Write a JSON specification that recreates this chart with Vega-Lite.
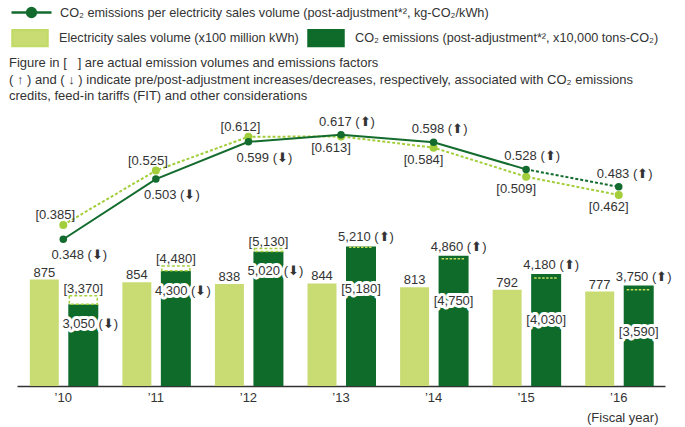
{
  "$schema": "https://vega.github.io/schema/vega-lite/v6.json",
  "width": 648,
  "height": 276,
  "autosize": {"type": "none"},
  "padding": {"left": 17, "top": 110, "right": 20, "bottom": 41},
  "background": "white",
  "config": {
    "view": {"stroke": null},
    "font": "Liberation Sans",
    "text": {"font": "Liberation Sans", "fontSize": 13, "color": "#333333"}
  },
  "title": {
    "text": [
      "Figure in [\u00a0\u00a0\u00a0] are actual emission volumes and emissions factors",
      "( ↑ ) and ( ↓ ) indicate pre/post-adjustment increases/decreases, respectively, associated with CO₂ emissions",
      "credits, feed-in tariffs (FIT) and other considerations"
    ],
    "anchor": "start",
    "frame": "group",
    "orient": "top",
    "offset": 8,
    "dx": -8,
    "dy": 120,
    "font": "Liberation Sans",
    "fontSize": 13,
    "fontWeight": "normal",
    "color": "#333333",
    "lineHeight": 16.5
  },
  "data": {
    "values": [
      {"year": "’10", "sales": 875, "co2": 3050, "co2pre": 3370, "factor": 0.348, "factorPre": 0.385, "dir": "down", "co2Label": "3,050 (⬇)", "co2PreLabel": "[3,370]", "factorLabel": "0.348 (⬇)", "factorPreLabel": "[0.385]"},
      {"year": "’11", "sales": 854, "co2": 4300, "co2pre": 4480, "factor": 0.503, "factorPre": 0.525, "dir": "down", "co2Label": "4,300 (⬇)", "co2PreLabel": "[4,480]", "factorLabel": "0.503 (⬇)", "factorPreLabel": "[0.525]"},
      {"year": "’12", "sales": 838, "co2": 5020, "co2pre": 5130, "factor": 0.599, "factorPre": 0.612, "dir": "down", "co2Label": "5,020 (⬇)", "co2PreLabel": "[5,130]", "factorLabel": "0.599 (⬇)", "factorPreLabel": "[0.612]"},
      {"year": "’13", "sales": 844, "co2": 5210, "co2pre": 5180, "factor": 0.617, "factorPre": 0.613, "dir": "up", "co2Label": "5,210 (⬆)", "co2PreLabel": "[5,180]", "factorLabel": "0.617 (⬆)", "factorPreLabel": "[0.613]"},
      {"year": "’14", "sales": 813, "co2": 4860, "co2pre": 4750, "factor": 0.598, "factorPre": 0.584, "dir": "up", "co2Label": "4,860 (⬆)", "co2PreLabel": "[4,750]", "factorLabel": "0.598 (⬆)", "factorPreLabel": "[0.584]"},
      {"year": "’15", "sales": 792, "co2": 4180, "co2pre": 4030, "factor": 0.528, "factorPre": 0.509, "dir": "up", "co2Label": "4,180 (⬆)", "co2PreLabel": "[4,030]", "factorLabel": "0.528 (⬆)", "factorPreLabel": "[0.509]"},
      {"year": "’16", "sales": 777, "co2": 3750, "co2pre": 3590, "factor": 0.483, "factorPre": 0.462, "dir": "up", "co2Label": "3,750 (⬆)", "co2PreLabel": "[3,590]", "factorLabel": "0.483 (⬆)", "factorPreLabel": "[0.462]"}
    ]
  },
  "encoding": {
    "x": {
      "field": "year",
      "type": "nominal",
      "sort": null,
      "scale": {"type": "band", "paddingInner": 0, "paddingOuter": 0},
      "axis": {
        "title": "(Fiscal year)",
        "titleAnchor": "end",
        "titleAlign": "right",
        "titleX": 641,
        "titleY": 35,
        "titleBaseline": "alphabetic",
        "titleFont": "Liberation Sans",
        "titleFontSize": 13,
        "titleFontWeight": "normal",
        "titleColor": "#333333",
        "labelAngle": 0,
        "labelFont": "Liberation Sans",
        "labelFontSize": 13,
        "labelColor": "#333333",
        "labelPadding": 5,
        "ticks": false,
        "domainColor": "#333333",
        "domainWidth": 1.5,
        "grid": false
      }
    }
  },
  "layer": [
    {
      "mark": {"type": "bar", "width": 29, "xOffset": -19},
      "encoding": {
        "y": {"field": "sales", "type": "quantitative", "scale": {"domain": [0, 2270]}, "axis": null},
        "color": {
          "datum": "Electricity sales volume (x100 million kWh)",
          "type": "nominal",
          "scale": {
            "domain": ["Electricity sales volume (x100 million kWh)", "CO₂ emissions (post-adjustment*², x10,000 tons-CO₂)"],
            "range": ["#c9dc74", "#0f6b2a"]
          },
          "legend": {
            "title": null,
            "orient": "none",
            "legendX": -6,
            "legendY": -91,
            "direction": "horizontal",
            "symbolType": "M-1,-0.45H1V0.45H-1Z",
            "symbolSize": 1225,
            "labelFont": "Liberation Sans",
            "labelFontSize": 12.7,
            "labelColor": "#333333",
            "labelLimit": 400,
            "labelOffset": 10,
            "columnPadding": 4,
            "encode": {
              "symbols": {
                "update": {
                  "fill": {"signal": "indexof(datum.value, 'Electricity') === 0 ? '#dcebc1' : '#0f6b2a'"},
                  "stroke": {"signal": "indexof(datum.value, 'Electricity') === 0 ? '#c2da68' : '#0f6b2a'"},
                  "strokeWidth": {"value": 2.5},
                  "opacity": {"value": 1},
                  "fillOpacity": {"value": 1}
                }
              }
            }
          }
        }
      }
    },
    {
      "mark": {"type": "text", "xOffset": -19, "dy": -3, "baseline": "alphabetic"},
      "encoding": {
        "y": {"field": "sales", "type": "quantitative", "scale": {"domain": [0, 2270]}, "axis": null},
        "text": {"field": "sales", "type": "quantitative", "format": "d"}
      }
    },
    {
      "mark": {"type": "bar", "width": 30, "xOffset": 20},
      "encoding": {
        "y": {"field": "co2", "type": "quantitative", "scale": {"domain": [0, 10300]}, "axis": null},
        "color": {"datum": "CO₂ emissions (post-adjustment*², x10,000 tons-CO₂)", "type": "nominal"}
      }
    },
    {
      "transform": [{"filter": "datum.dir === 'down'"}],
      "mark": {"type": "bar", "width": 28, "xOffset": 20, "fill": "white", "stroke": "#a8d140", "strokeWidth": 1.5, "strokeDash": [3, 2]},
      "encoding": {
        "y": {"field": "co2pre", "type": "quantitative", "scale": {"domain": [0, 10300]}, "axis": null},
        "y2": {"field": "co2"}
      }
    },
    {
      "transform": [{"filter": "datum.dir === 'up'"}],
      "mark": {"type": "rule", "xOffset": 8, "x2Offset": 31, "stroke": "#c8e05a", "strokeWidth": 1.5, "strokeDash": [2.5, 1.5]},
      "encoding": {
        "x": {"field": "year", "type": "nominal", "bandPosition": 0.5},
        "x2": {"field": "year", "bandPosition": 0.5},
        "y": {"field": "co2pre", "type": "quantitative", "scale": {"domain": [0, 10300]}, "axis": null}
      }
    },
    {
      "transform": [{"filter": "datum.dir === 'down'"}],
      "mark": {"type": "text", "xOffset": 20, "dy": -3, "baseline": "alphabetic"},
      "encoding": {
        "y": {"field": "co2pre", "type": "quantitative", "scale": {"domain": [0, 10300]}, "axis": null},
        "text": {"field": "co2PreLabel"}
      }
    },
    {
      "transform": [{"filter": "datum.dir === 'up'"}],
      "mark": {"type": "text", "xOffset": 25, "dy": -5, "baseline": "alphabetic"},
      "encoding": {
        "y": {"field": "co2", "type": "quantitative", "scale": {"domain": [0, 10300]}, "axis": null},
        "text": {"field": "co2Label"}
      }
    },
    {
      "transform": [{"filter": "datum.dir === 'down'"}],
      "mark": {"type": "text", "xOffset": 27, "dy": 20, "baseline": "middle", "stroke": "white", "strokeWidth": 6, "strokeJoin": "round", "fill": "white"},
      "encoding": {
        "y": {"field": "co2", "type": "quantitative", "scale": {"domain": [0, 10300]}, "axis": null},
        "text": {"field": "co2Label"}
      }
    },
    {
      "transform": [{"filter": "datum.dir === 'down'"}],
      "mark": {"type": "text", "xOffset": 27, "dy": 20, "baseline": "middle"},
      "encoding": {
        "y": {"field": "co2", "type": "quantitative", "scale": {"domain": [0, 10300]}, "axis": null},
        "text": {"field": "co2Label"}
      }
    },
    {
      "transform": [{"filter": "datum.dir === 'up'"}],
      "mark": {"type": "text", "xOffset": 20, "dy": 42, "baseline": "middle", "stroke": "white", "strokeWidth": 6, "strokeJoin": "round", "fill": "white"},
      "encoding": {
        "y": {"field": "co2pre", "type": "quantitative", "scale": {"domain": [0, 10300]}, "axis": null},
        "text": {"field": "co2PreLabel"}
      }
    },
    {
      "transform": [{"filter": "datum.dir === 'up'"}],
      "mark": {"type": "text", "xOffset": 20, "dy": 42, "baseline": "middle"},
      "encoding": {
        "y": {"field": "co2pre", "type": "quantitative", "scale": {"domain": [0, 10300]}, "axis": null},
        "text": {"field": "co2PreLabel"}
      }
    },
    {
      "mark": {"type": "line", "stroke": "#a3ce3b", "strokeWidth": 2, "strokeDash": [3, 2]},
      "encoding": {
        "y": {"field": "factorPre", "type": "quantitative", "scale": {"domain": [-0.03, 0.681]}, "axis": null}
      }
    },
    {
      "mark": {"type": "point", "filled": true, "size": 64, "opacity": 1, "color": "#a3ce3b"},
      "encoding": {
        "y": {"field": "factorPre", "type": "quantitative", "scale": {"domain": [-0.03, 0.681]}, "axis": null}
      }
    },
    {
      "transform": [{"filter": {"field": "year", "oneOf": ["’10", "’11", "’12", "’13", "’14", "’15"]}}],
      "mark": {"type": "line", "strokeWidth": 2},
      "encoding": {
        "y": {"field": "factor", "type": "quantitative", "scale": {"domain": [-0.03, 0.681]}, "axis": null},
        "stroke": {
          "datum": "CO₂ emissions per electricity sales volume (post-adjustment*², kg-CO₂/kWh)",
          "type": "nominal",
          "scale": {"range": ["#136b2d"]},
          "legend": {
            "title": null,
            "orient": "none",
            "legendX": -7,
            "legendY": -119,
            "symbolType": "M-1,0H1M-0.22,0A0.22,0.22,0,1,1,0.22,0A0.22,0.22,0,1,1,-0.22,0Z",
            "symbolSize": 1600,
            "symbolStrokeWidth": 2.5,
            "labelFont": "Liberation Sans",
            "labelFontSize": 12.7,
            "labelColor": "#333333",
            "labelLimit": 500,
            "labelOffset": 7,
            "encode": {
              "symbols": {
                "update": {
                  "fill": {"value": "#136b2d"},
                  "stroke": {"value": "#136b2d"},
                  "opacity": {"value": 1}
                }
              }
            }
          }
        }
      }
    },
    {
      "transform": [{"filter": {"field": "year", "oneOf": ["’15", "’16"]}}],
      "mark": {"type": "line", "stroke": "#136b2d", "strokeWidth": 2, "strokeDash": [3, 2]},
      "encoding": {
        "y": {"field": "factor", "type": "quantitative", "scale": {"domain": [-0.03, 0.681]}, "axis": null}
      }
    },
    {
      "mark": {"type": "point", "filled": true, "size": 56, "opacity": 1, "color": "#136b2d"},
      "encoding": {
        "y": {"field": "factor", "type": "quantitative", "scale": {"domain": [-0.03, 0.681]}, "axis": null}
      }
    },
    {
      "transform": [{"filter": "datum.dir === 'down'"}],
      "mark": {"type": "text", "dx": 16, "dy": 16, "baseline": "middle"},
      "encoding": {
        "y": {"field": "factor", "type": "quantitative", "scale": {"domain": [-0.03, 0.681]}, "axis": null},
        "text": {"field": "factorLabel"}
      }
    },
    {
      "transform": [{"filter": "datum.dir === 'down'"}],
      "mark": {"type": "text", "dx": -8, "dy": -10, "baseline": "middle"},
      "encoding": {
        "y": {"field": "factorPre", "type": "quantitative", "scale": {"domain": [-0.03, 0.681]}, "axis": null},
        "text": {"field": "factorPreLabel"}
      }
    },
    {
      "transform": [{"filter": "datum.dir === 'up'"}],
      "mark": {"type": "text", "dx": 6, "dy": -13, "baseline": "middle"},
      "encoding": {
        "y": {"field": "factor", "type": "quantitative", "scale": {"domain": [-0.03, 0.681]}, "axis": null},
        "text": {"field": "factorLabel"}
      }
    },
    {
      "transform": [{"filter": "datum.dir === 'up'"}],
      "mark": {"type": "text", "dx": -10, "dy": 12, "baseline": "middle"},
      "encoding": {
        "y": {"field": "factorPre", "type": "quantitative", "scale": {"domain": [-0.03, 0.681]}, "axis": null},
        "text": {"field": "factorPreLabel"}
      }
    }
  ],
  "resolve": {"scale": {"y": "independent"}, "axis": {"y": "independent"}}
}
